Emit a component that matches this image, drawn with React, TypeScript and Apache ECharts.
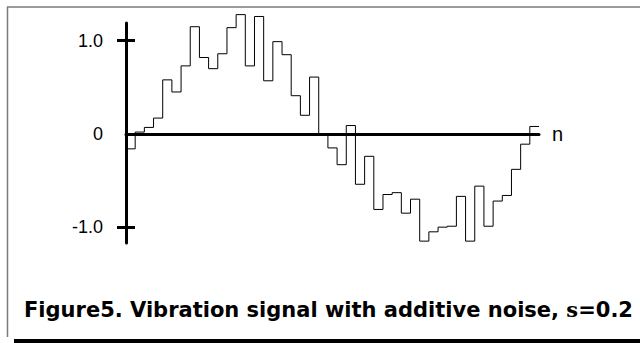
import React, { useEffect, useRef } from "react";
import * as echarts from "echarts";

// Sample values of the noisy vibration signal, one per step n = 0..44
const signalValues: number[] = [
  -0.16, 0.02, 0.07, 0.17, 0.58, 0.45, 0.73, 1.15, 0.82, 0.70,
  0.86, 1.14, 1.28, 0.73, 1.26, 0.57, 0.99, 0.85, 0.41, 0.20,
  0.61, 0.0, -0.15, -0.33, 0.09, -0.54, -0.24, -0.81, -0.65, -0.63,
  -0.85, -0.70, -1.15, -1.05, -1.0, -0.99, -0.67, -1.15, -0.56, -0.99,
  -0.72, -0.66, -0.38, -0.11, 0.08,
];
const yLabelValues: number[] = [-1, 0, 1];
const yTickValues: number[] = [-1, 1];
const xAxisName = "n";
const captionMain = "Figure5. Vibration signal with additive noise, ";
const captionSymbol = "s";
const captionTail = "=0.2";

export default function App() {
  const ref = useRef<HTMLDivElement>(null);
  useEffect(() => {
    if (!ref.current) return;
    const chart = echarts.init(ref.current, undefined, { renderer: "svg" });
    const pts: number[][] = signalValues.map((v, i) => [i, v]);
    pts.push([signalValues.length, signalValues[signalValues.length - 1]]);
    const font = "'Liberation Sans', Arial, sans-serif";
    const capFont = "'DejaVu Sans', sans-serif";
    chart.setOption({
      animation: false,
      backgroundColor: "#fff",
      title: {
        left: 19,
        top: 294,
        text: `{a|${captionMain}}{b|${captionSymbol}}{a|${captionTail}}`,
        textStyle: {
          rich: {
            a: { fontFamily: capFont, fontWeight: "bold", fontSize: 21, color: "#000" },
            b: { fontFamily: "'DejaVu Serif', serif", fontWeight: "bold", fontSize: 21, color: "#000" },
          },
        },
      },
      grid: { left: 126, right: 101, top: 23, bottom: 100 },
      xAxis: {
        type: "value",
        min: 0,
        max: signalValues.length,
        name: xAxisName,
        nameLocation: "end",
        nameGap: 13,
        nameTextStyle: { fontFamily: font, fontSize: 20, color: "#000" },
        axisLine: { onZero: true, lineStyle: { color: "#000", width: 3 } },
        axisTick: { show: false },
        axisLabel: { show: false },
        splitLine: { show: false },
      },
      yAxis: [
        {
          type: "value",
          min: -1.17,
          max: 1.19,
          position: "left",
          axisLine: { show: true, onZero: false, lineStyle: { color: "#000", width: 3 } },
          axisTick: { show: true, length: 9, customValues: yTickValues, lineStyle: { color: "#000", width: 3 } },
          axisLabel: {
            show: true,
            margin: 23,
            customValues: yLabelValues,
            fontFamily: font,
            fontSize: 18,
            color: "#000",
            formatter: (v: number) => (v === 0 ? "0" : v.toFixed(1)),
          },
          splitLine: { show: false },
        },
        {
          type: "value",
          min: -1.17,
          max: 1.19,
          position: "left",
          offset: 0,
          axisLine: { show: false },
          axisTick: { show: true, inside: true, length: 9, customValues: yTickValues, lineStyle: { color: "#000", width: 3 } },
          axisLabel: { show: false },
          splitLine: { show: false },
        },
      ],
      series: [
        {
          type: "line",
          step: "end",
          data: pts,
          clip: false,
          showSymbol: false,
          symbol: "none",
          lineStyle: { color: "#000", width: 1 },
          z: 1,
        },
      ],
      graphic: [
        { type: "line", shape: { x1: 7, y1: 7, x2: 640, y2: 7 }, style: { stroke: "#7a7a7a", lineWidth: 1.5 }, silent: true },
        { type: "line", shape: { x1: 7.5, y1: 7, x2: 7.5, y2: 337 }, style: { stroke: "#7a7a7a", lineWidth: 1.5 }, silent: true },
        { type: "rect", shape: { x: 14, y: 339, width: 626, height: 4 }, style: { fill: "#000" }, silent: true },
      ],
    });
    return () => chart.dispose();
  }, []);
  return (
    <div
      ref={ref}
      style={{ position: "fixed", left: 0, top: 0, width: 640, height: 343, background: "#fff" }}
    />
  );
}
